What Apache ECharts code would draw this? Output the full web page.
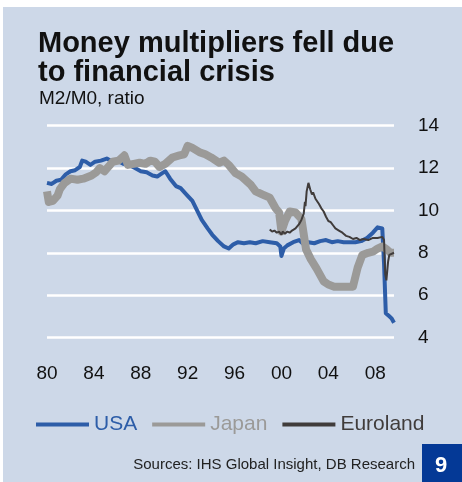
<!DOCTYPE html>
<html>
<head>
<meta charset="utf-8">
<script src="https://cdn.jsdelivr.net/npm/echarts@6/dist/echarts.min.js"></script>
<style>
  html, body { margin: 0; padding: 0; background: #fff; }
  #box { width: 462px; height: 482px; }
</style>
</head>
<body>
<div id="box"></div>
<script>
// values, [year, M2/M0 ratio]
const usa = [
  [1980.0, 11.3], [1980.4, 11.25], [1980.8, 11.4], [1981.2, 11.45], [1981.6, 11.7], [1982.0, 11.85],
  [1982.4, 11.9], [1982.8, 12.05], [1983.0, 12.35], [1983.3, 12.3], [1983.7, 12.15], [1984.1, 12.3],
  [1984.6, 12.35], [1985.1, 12.45], [1985.6, 12.3], [1986.0, 12.35], [1986.5, 12.2], [1987.0, 12.15],
  [1987.5, 12.0], [1988.0, 11.85], [1988.5, 11.8], [1989.0, 11.65], [1989.4, 11.6], [1989.8, 11.75],
  [1990.1, 11.85], [1990.5, 11.5], [1991.0, 11.15], [1991.4, 11.05], [1991.9, 10.75], [1992.4, 10.45],
  [1992.8, 10.0], [1993.2, 9.55], [1993.7, 9.15], [1994.1, 8.85], [1994.6, 8.55], [1995.1, 8.3],
  [1995.5, 8.2], [1995.9, 8.4], [1996.3, 8.5], [1996.8, 8.45], [1997.3, 8.5], [1997.8, 8.45],
  [1998.4, 8.55], [1999.0, 8.5], [1999.6, 8.45], [1999.9, 8.3], [2000.0, 7.85], [2000.2, 8.2],
  [2000.5, 8.35], [2001.0, 8.5], [2001.5, 8.6], [2001.8, 8.45], [2002.3, 8.5], [2002.8, 8.45],
  [2003.3, 8.55], [2003.8, 8.6], [2004.3, 8.5], [2004.8, 8.55], [2005.3, 8.5], [2005.8, 8.5],
  [2006.3, 8.5], [2006.8, 8.55], [2007.3, 8.7], [2007.8, 8.95], [2008.2, 9.2], [2008.6, 9.15],
  [2008.75, 7.5], [2008.9, 5.15], [2009.2, 5.0], [2009.4, 4.9], [2009.6, 4.7]
];
const japan = [
  [1980.0, 10.9], [1980.15, 10.4], [1980.5, 10.45], [1980.9, 10.7], [1981.1, 11.0], [1981.5, 11.3],
  [1982.0, 11.5], [1982.6, 11.45], [1983.1, 11.5], [1983.8, 11.65], [1984.2, 11.8], [1984.5, 12.0],
  [1984.9, 11.85], [1985.3, 12.1], [1985.6, 12.3], [1986.1, 12.35], [1986.6, 12.6], [1986.9, 12.15],
  [1987.4, 12.2], [1987.9, 12.25], [1988.4, 12.2], [1988.8, 12.35], [1989.2, 12.3], [1989.6, 12.05],
  [1990.1, 12.2], [1990.7, 12.5], [1991.3, 12.6], [1991.7, 12.65], [1992.0, 13.05], [1992.4, 12.95],
  [1993.0, 12.75], [1993.5, 12.65], [1994.0, 12.5], [1994.7, 12.25], [1995.1, 12.35], [1995.5, 12.15],
  [1996.1, 11.75], [1996.6, 11.6], [1997.0, 11.4], [1997.4, 11.2], [1997.8, 10.9], [1998.4, 10.75],
  [1999.0, 10.6], [1999.5, 10.1], [1999.8, 9.9], [2000.0, 9.0], [2000.3, 9.5], [2000.7, 9.95],
  [2001.2, 9.9], [2001.7, 9.6], [2002.1, 8.15], [2002.5, 7.7], [2003.0, 7.25], [2003.6, 6.65],
  [2004.0, 6.5], [2004.5, 6.4], [2005.3, 6.4], [2006.1, 6.4], [2006.5, 7.3], [2006.9, 7.9],
  [2007.4, 8.0], [2007.8, 8.05], [2008.2, 8.2], [2008.6, 8.3], [2009.0, 8.15], [2009.3, 8.0],
  [2009.6, 8.0]
];
const euroland = [
  [1999.0, 9.1], [1999.2, 9.0], [1999.4, 9.05], [1999.6, 8.95], [1999.8, 9.0], [2000.0, 8.85],
  [2000.1, 9.0], [2000.3, 8.9], [2000.5, 9.0], [2000.7, 8.95], [2000.9, 9.05], [2001.2, 9.15],
  [2001.5, 9.35], [2001.7, 9.55], [2001.9, 9.85], [2002.0, 10.4], [2002.05, 10.2], [2002.15, 10.9],
  [2002.3, 11.3], [2002.45, 11.0], [2002.6, 10.75], [2002.7, 10.85], [2002.9, 10.55], [2003.0, 10.6],
  [2003.2, 10.3], [2003.4, 10.1], [2003.6, 9.95], [2003.8, 9.7], [2004.0, 9.5], [2004.2, 9.45],
  [2004.4, 9.3], [2004.6, 9.15], [2004.9, 9.05], [2005.2, 8.95], [2005.5, 8.8], [2005.8, 8.75],
  [2006.1, 8.65], [2006.4, 8.7], [2006.7, 8.6], [2007.0, 8.65], [2007.4, 8.6], [2007.8, 8.7],
  [2008.2, 8.7], [2008.6, 8.75], [2008.75, 8.6], [2008.85, 7.0], [2008.95, 6.7], [2009.1, 7.6],
  [2009.2, 7.9], [2009.6, 8.0]
];

const font = "'Liberation Sans', Arial, sans-serif";
const chartDom = document.getElementById('box');
const myChart = echarts.init(chartDom);

var option = {
  animation: false,
  textStyle: { fontFamily: font },
  title: [
    {
      text: 'Money multipliers fell due\nto financial crisis',
      left: 33, top: 24,
      textStyle: { fontSize: 29, fontWeight: 900, lineHeight: 29, color: '#111', fontFamily: font }
    },
    {
      text: 'M2/M0, ratio',
      left: 34, top: 84,
      textStyle: { fontSize: 19, fontWeight: 'normal', color: '#111', fontFamily: font }
    }
  ],
  graphic: [
    { type: 'rect', left: 3, top: 7, z: -10, shape: { width: 459, height: 475 }, style: { fill: '#cdd8e8' } },
    { type: 'rect', left: 422, top: 444, z: 10, shape: { width: 40, height: 38 }, style: { fill: '#043996' } },
    { type: 'text', left: 435, top: 455, z: 11, style: { text: '9', fill: '#fff', font: 'bold 22px ' + font } },
    { type: 'text', right: 47, top: 457, style: { text: 'Sources: IHS Global Insight, DB Research', fill: '#222', font: '15px ' + font } }
  ],
  legend: {
    left: 31, top: 409,
    icon: 'rect',
    itemWidth: 53, itemHeight: 4, itemGap: 15,
    textStyle: { fontSize: 21, fontFamily: font },
    data: [
      { name: 'USA', textStyle: { color: '#2d5da8' } },
      { name: 'Japan', textStyle: { color: '#9b9a98' } },
      { name: 'Euroland', textStyle: { color: '#403c3b' } }
    ]
  },
  grid: { left: 47, right: 68, top: 125.7, bottom: 144.5 },
  xAxis: {
    type: 'value',
    min: 1980, max: 2009.6, interval: 4,
    axisLine: { show: false },
    axisTick: { show: false },
    splitLine: { show: false },
    axisLabel: {
      margin: 27, fontSize: 19, color: '#111', fontFamily: font,
      formatter: v => (v % 4 === 0 ? String(v).slice(2) : '')
    }
  },
  yAxis: {
    type: 'value',
    position: 'right',
    min: 4, max: 14, interval: 2,
    axisLine: { show: false },
    axisTick: { show: false },
    splitLine: { lineStyle: { color: '#fff', width: 2.5 } },
    axisLabel: { margin: 24, fontSize: 19, color: '#111', fontFamily: font }
  },
  series: [
    {
      name: 'USA', type: 'line', data: usa, symbol: 'none',
      lineStyle: { color: '#2d5da8', width: 4, join: 'round' }, itemStyle: { color: '#2d5da8' }
    },
    {
      name: 'Japan', type: 'line', data: japan, symbol: 'none',
      lineStyle: { color: '#9b9a98', width: 8, join: 'round' }, itemStyle: { color: '#9b9a98' }
    },
    {
      name: 'Euroland', type: 'line', data: euroland, symbol: 'none',
      lineStyle: { color: '#403c3b', width: 2 }, itemStyle: { color: '#403c3b' }
    }
  ]
};
option && myChart.setOption(option);
</script>
</body>
</html>
